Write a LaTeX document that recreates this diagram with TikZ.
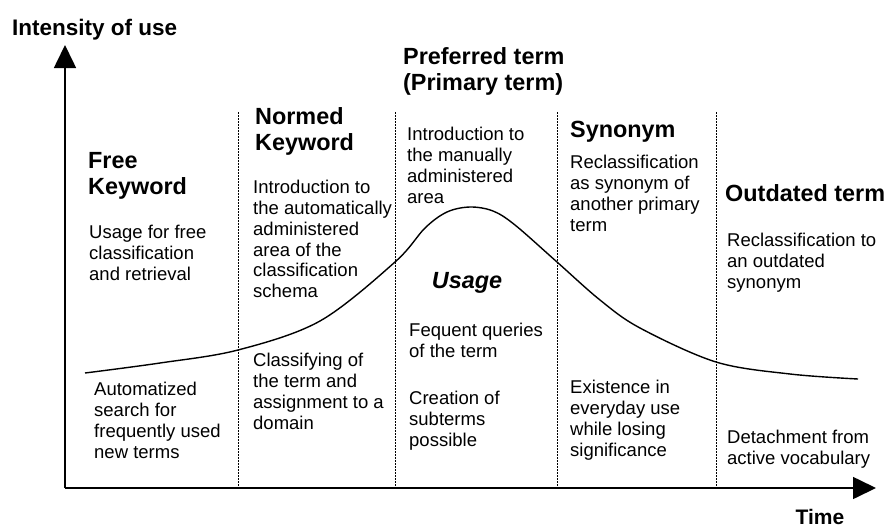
\documentclass[tikz,border=0pt]{standalone}
\usepackage{fontspec}
\setmainfont{Liberation Sans}
\usetikzlibrary{arrows.meta}
\begin{document}
\begin{tikzpicture}
		[x=1pt,y=-1pt,
		heading/.style={anchor=north west,inner sep=0pt,align=left,
font=\fontsize{23.4}{26}\selectfont\bfseries},
		bodytext/.style={anchor=north west,inner sep=0pt,align=left,
font=\fontsize{18.5}{20.8}\selectfont},
		axisline/.style={line width=1.6pt,-{Triangle[length=23pt,width=22pt]}},
		divider/.style={line width=0.9pt,dash pattern=on 1.6pt off 1.4pt},
		usecurve/.style={line width=1.4pt}]
		\useasboundingbox (0,0) rectangle (888,528);
		% axes
		\coordinate (origin) at (65,488);
		\coordinate (ytip) at (65,45);
		\coordinate (xtip) at (876,488);
		\draw [axisline] (origin) -- (ytip);
		\draw [axisline] (origin) -- (xtip);
		\node at (12,19) (intensity) [anchor=north west,inner sep=0pt,
font=\fontsize{22.5}{25}\selectfont\bfseries] {Intensity of use};
		\node at (820,509) (time) [anchor=north,inner sep=0pt,
font=\fontsize{21}{24}\selectfont\bfseries] {Time};
		% phase borders
		\coordinate (d1top) at (238,112); \coordinate (d1bot) at (238,488);
		\coordinate (d2top) at (395,112); \coordinate (d2bot) at (395,488);
		\coordinate (d3top) at (557,112); \coordinate (d3bot) at (557,488);
		\coordinate (d4top) at (716,112); \coordinate (d4bot) at (716,488);
		\draw [divider] (d1top) -- (d1bot);
		\draw [divider] (d2top) -- (d2bot);
		\draw [divider] (d3top) -- (d3bot);
		\draw [divider] (d4top) -- (d4bot);
		% life cycle curve
		\draw [usecurve] plot [smooth,tension=0.55] coordinates {(85,373) (160,363)
(238,350) (320,321) (395,262) (425,228) (447,212) (470,207) (493,211)
(515,225) (557,262) (600,300) (640,328) (716,362) (790,374) (858,379)};
		% free keyword
		\node at (88,152) (free) [heading] {Free\\Keyword};
		\node at (89,225) (freeup) [bodytext] {Usage for free\\classification\\and retrieval};
		\node at (94,382) (freelow) [bodytext] {Automatized\\search for\\frequently used\\new terms};
		% normed keyword
		\node at (255,107) (normed) [heading] {Normed\\Keyword};
		\node at (253,180) (normedup) [bodytext] {Introduction to\\the automatically\\administered\\area of the\\classification\\schema};
		\node at (253,353) (normedlow) [bodytext] {Classifying of\\the term and\\assignment to a\\domain};
		% preferred term
		\node at (403,47) (preferred) [heading] {Preferred term\\(Primary term)};
		\node at (407,127) (preferredup) [bodytext] {Introduction to\\the manually\\administered\\area};
		\node at (467,272) (usage) [anchor=north,inner sep=0pt,
font=\fontsize{23.4}{26}\selectfont\bfseries\itshape] {Usage};
		\node at (409,323) (queries) [bodytext] {Fequent queries\\of the term};
		\node at (409,391) (subterms) [bodytext] {Creation of\\subterms\\possible};
		% synonym
		\node at (570,121) (synonym) [heading] {Synonym};
		\node at (570,155) (synonymup) [bodytext] {Reclassification\\as synonym of\\another primary\\term};
		\node at (570,380) (synonymlow) [bodytext] {Existence in\\everyday use\\while losing\\significance};
		% outdated term
		\node at (725,184) (outdated) [heading] {Outdated term};
		\node at (727,233) (outdatedup) [bodytext] {Reclassification to\\an outdated\\synonym};
		\node at (727,430) (outdatedlow) [bodytext] {Detachment from\\active vocabulary};
	\end{tikzpicture}
\end{document}
